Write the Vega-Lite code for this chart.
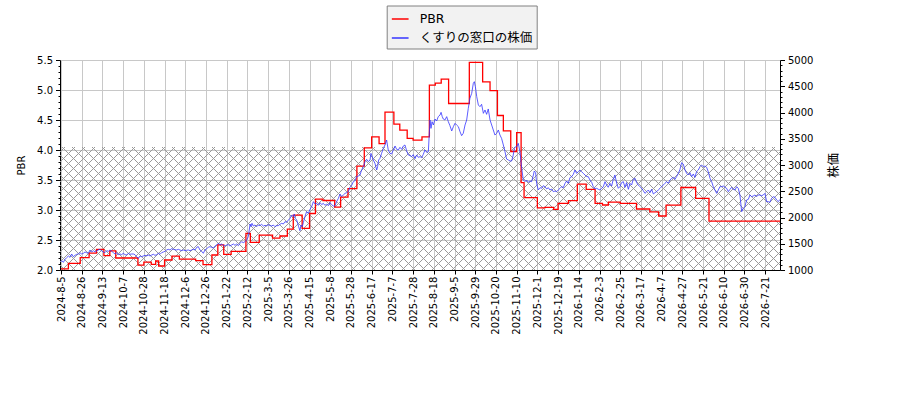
{
  "$schema": "https://vega.github.io/schema/vega-lite/v6.json",
  "width": 720,
  "height": 210,
  "autosize": {"type": "none"},
  "padding": {"left": 60, "top": 60, "right": 120, "bottom": 130},
  "background": "white",
  "datasets": {
    "band": [{"lo": 2.0, "hi": 4.05, "plo": 1000, "phi": 3342.857}],
    "pbr": [
      {"i": 0, "v": 2.02}, {"i": 5, "v": 2.11}, {"i": 13, "v": 2.205}, {"i": 19, "v": 2.28},
      {"i": 24, "v": 2.345}, {"i": 29, "v": 2.24}, {"i": 33, "v": 2.32}, {"i": 37, "v": 2.2},
      {"i": 52, "v": 2.08}, {"i": 56, "v": 2.13}, {"i": 61, "v": 2.095}, {"i": 64, "v": 2.15},
      {"i": 66, "v": 2.067}, {"i": 70, "v": 2.167}, {"i": 75, "v": 2.23}, {"i": 80, "v": 2.18},
      {"i": 91, "v": 2.155}, {"i": 96, "v": 2.09}, {"i": 102, "v": 2.25}, {"i": 106, "v": 2.42},
      {"i": 110, "v": 2.26}, {"i": 115, "v": 2.31}, {"i": 125, "v": 2.61}, {"i": 128, "v": 2.46},
      {"i": 134, "v": 2.58}, {"i": 143, "v": 2.53}, {"i": 148, "v": 2.567}, {"i": 153, "v": 2.68},
      {"i": 157, "v": 2.915}, {"i": 163, "v": 2.695}, {"i": 168, "v": 2.942}, {"i": 172, "v": 3.18},
      {"i": 177, "v": 3.158}, {"i": 185, "v": 3.048}, {"i": 189, "v": 3.215}, {"i": 194, "v": 3.355},
      {"i": 200, "v": 3.73}, {"i": 205, "v": 4.035}, {"i": 210, "v": 4.22}, {"i": 215, "v": 4.105},
      {"i": 219, "v": 4.63}, {"i": 225, "v": 4.43}, {"i": 229, "v": 4.33}, {"i": 234, "v": 4.195},
      {"i": 238, "v": 4.165}, {"i": 244, "v": 4.22}, {"i": 249, "v": 5.08}, {"i": 253, "v": 5.115},
      {"i": 257, "v": 5.18}, {"i": 262, "v": 4.775}, {"i": 276, "v": 5.46}, {"i": 285, "v": 5.135},
      {"i": 290, "v": 4.99}, {"i": 295, "v": 4.575}, {"i": 299, "v": 4.32}, {"i": 304, "v": 3.975},
      {"i": 308, "v": 4.29}, {"i": 311, "v": 3.455}, {"i": 313, "v": 3.205}, {"i": 322, "v": 3.035},
      {"i": 327, "v": 3.045}, {"i": 333, "v": 3.01}, {"i": 336, "v": 3.11}, {"i": 343, "v": 3.155},
      {"i": 349, "v": 3.43}, {"i": 355, "v": 3.345}, {"i": 361, "v": 3.11}, {"i": 366, "v": 3.083},
      {"i": 370, "v": 3.13}, {"i": 378, "v": 3.11}, {"i": 389, "v": 3.017}, {"i": 398, "v": 2.97},
      {"i": 404, "v": 2.9}, {"i": 409, "v": 3.08}, {"i": 419, "v": 3.375}, {"i": 429, "v": 3.195},
      {"i": 438, "v": 2.815}, {"i": 486, "v": 2.815}
    ],
    "price": [
      {"i": 0, "p": 1159}, {"i": 0.5, "p": 1178}, {"i": 1.6, "p": 1146}, {"i": 2.7, "p": 1203}, {"i": 3.8, "p": 1235},
      {"i": 5.0, "p": 1267}, {"i": 6.1, "p": 1241}, {"i": 7.2, "p": 1305}, {"i": 8.3, "p": 1254}, {"i": 9.5, "p": 1280},
      {"i": 10.6, "p": 1299}, {"i": 11.7, "p": 1305}, {"i": 12.8, "p": 1330}, {"i": 14.0, "p": 1305}, {"i": 15.1, "p": 1318},
      {"i": 16.2, "p": 1343}, {"i": 17.3, "p": 1330}, {"i": 18.5, "p": 1318}, {"i": 19.6, "p": 1381}, {"i": 20.7, "p": 1343},
      {"i": 21.9, "p": 1368}, {"i": 23.0, "p": 1343}, {"i": 24.1, "p": 1362}, {"i": 25.2, "p": 1381}, {"i": 26.4, "p": 1394},
      {"i": 27.5, "p": 1362}, {"i": 28.6, "p": 1343}, {"i": 29.7, "p": 1330}, {"i": 30.9, "p": 1368}, {"i": 32.0, "p": 1356},
      {"i": 33.1, "p": 1381}, {"i": 34.3, "p": 1356}, {"i": 35.4, "p": 1330}, {"i": 36.5, "p": 1305}, {"i": 37.6, "p": 1330},
      {"i": 38.8, "p": 1292}, {"i": 39.9, "p": 1305}, {"i": 41.0, "p": 1292}, {"i": 42.1, "p": 1318}, {"i": 43.3, "p": 1292},
      {"i": 44.4, "p": 1286}, {"i": 45.5, "p": 1318}, {"i": 46.6, "p": 1299}, {"i": 47.8, "p": 1305}, {"i": 48.9, "p": 1305},
      {"i": 50.0, "p": 1292}, {"i": 51.1, "p": 1254}, {"i": 52.3, "p": 1222}, {"i": 53.4, "p": 1267}, {"i": 54.5, "p": 1254},
      {"i": 55.6, "p": 1267}, {"i": 56.8, "p": 1280}, {"i": 57.9, "p": 1267}, {"i": 59.0, "p": 1286}, {"i": 60.2, "p": 1267},
      {"i": 61.3, "p": 1286}, {"i": 62.4, "p": 1299}, {"i": 63.5, "p": 1280}, {"i": 64.7, "p": 1292}, {"i": 65.8, "p": 1318},
      {"i": 66.9, "p": 1299}, {"i": 68.0, "p": 1330}, {"i": 69.2, "p": 1343}, {"i": 70.3, "p": 1356}, {"i": 71.4, "p": 1381},
      {"i": 72.5, "p": 1394}, {"i": 73.7, "p": 1381}, {"i": 74.8, "p": 1407}, {"i": 75.9, "p": 1394}, {"i": 77.0, "p": 1387},
      {"i": 78.2, "p": 1381}, {"i": 79.3, "p": 1394}, {"i": 80.4, "p": 1381}, {"i": 81.6, "p": 1368}, {"i": 82.7, "p": 1381},
      {"i": 83.8, "p": 1368}, {"i": 84.9, "p": 1375}, {"i": 86.1, "p": 1381}, {"i": 87.2, "p": 1368}, {"i": 88.3, "p": 1381},
      {"i": 89.4, "p": 1394}, {"i": 90.6, "p": 1381}, {"i": 91.7, "p": 1432}, {"i": 92.8, "p": 1445}, {"i": 93.9, "p": 1381},
      {"i": 95.1, "p": 1356}, {"i": 96.2, "p": 1318}, {"i": 97.3, "p": 1381}, {"i": 98.5, "p": 1407}, {"i": 99.6, "p": 1432},
      {"i": 100.7, "p": 1445}, {"i": 101.8, "p": 1432}, {"i": 103.0, "p": 1419}, {"i": 104.1, "p": 1457}, {"i": 105.2, "p": 1476},
      {"i": 106.3, "p": 1508}, {"i": 107.5, "p": 1483}, {"i": 108.6, "p": 1495}, {"i": 109.7, "p": 1470}, {"i": 110.8, "p": 1457},
      {"i": 112.0, "p": 1476}, {"i": 113.1, "p": 1483}, {"i": 114.2, "p": 1457}, {"i": 115.3, "p": 1476}, {"i": 116.5, "p": 1495},
      {"i": 117.6, "p": 1470}, {"i": 118.7, "p": 1495}, {"i": 119.9, "p": 1464},
      {"i": 121.0, "p": 1508}, {"i": 122.1, "p": 1540}, {"i": 123.2, "p": 1521}, {"i": 124.4, "p": 1540}, {"i": 125.5, "p": 1572},
      {"i": 126.6, "p": 1635}, {"i": 127.8, "p": 1876}, {"i": 128.4, "p": 1826}, {"i": 129.1, "p": 1889}, {"i": 130.0, "p": 1838},
      {"i": 131.1, "p": 1857}, {"i": 132.3, "p": 1826}, {"i": 133.4, "p": 1857}, {"i": 134.5, "p": 1845}, {"i": 135.6, "p": 1870},
      {"i": 136.8, "p": 1838}, {"i": 137.9, "p": 1851}, {"i": 139.0, "p": 1838}, {"i": 140.1, "p": 1864}, {"i": 141.3, "p": 1845},
      {"i": 142.4, "p": 1838}, {"i": 143.5, "p": 1857}, {"i": 144.6, "p": 1826}, {"i": 145.8, "p": 1845}, {"i": 146.9, "p": 1845},
      {"i": 148.0, "p": 1870}, {"i": 149.2, "p": 1889}, {"i": 150.3, "p": 1876}, {"i": 151.4, "p": 1921}, {"i": 152.5, "p": 1908},
      {"i": 153.7, "p": 1952}, {"i": 154.8, "p": 1984}, {"i": 155.9, "p": 2048}, {"i": 157.0, "p": 2016}, {"i": 157.7, "p": 2067},
      {"i": 158.4, "p": 1984}, {"i": 159.3, "p": 1952}, {"i": 160.0, "p": 1889}, {"i": 160.6, "p": 1826}, {"i": 161.5, "p": 1749},
      {"i": 162.2, "p": 1857}, {"i": 163.1, "p": 1826}, {"i": 163.8, "p": 1902}, {"i": 164.9, "p": 2016}, {"i": 166.0, "p": 2111},
      {"i": 167.2, "p": 2079}, {"i": 168.3, "p": 2156}, {"i": 169.4, "p": 2206}, {"i": 170.6, "p": 2302}, {"i": 171.7, "p": 2257},
      {"i": 172.8, "p": 2270}, {"i": 173.9, "p": 2232}, {"i": 175.1, "p": 2283}, {"i": 176.2, "p": 2245}, {"i": 177.3, "p": 2270},
      {"i": 178.4, "p": 2232}, {"i": 179.6, "p": 2257}, {"i": 180.7, "p": 2225}, {"i": 181.8, "p": 2283}, {"i": 182.9, "p": 2245},
      {"i": 184.1, "p": 2219}, {"i": 185.2, "p": 2225}, {"i": 186.3, "p": 2302}, {"i": 187.5, "p": 2365}, {"i": 188.6, "p": 2448},
      {"i": 189.7, "p": 2397}, {"i": 190.8, "p": 2429}, {"i": 192.0, "p": 2460}, {"i": 193.1, "p": 2473}, {"i": 194.2, "p": 2492},
      {"i": 195.3, "p": 2575}, {"i": 196.5, "p": 2613}, {"i": 197.6, "p": 2683}, {"i": 198.7, "p": 2702}, {"i": 199.8, "p": 2778},
      {"i": 201.0, "p": 2791}, {"i": 202.1, "p": 2810}, {"i": 203.2, "p": 2905}, {"i": 204.4, "p": 2968}, {"i": 205.5, "p": 3064},
      {"i": 206.6, "p": 3108}, {"i": 207.7, "p": 3064}, {"i": 208.9, "p": 3095}, {"i": 209.5, "p": 3222}, {"i": 210.2, "p": 3171},
      {"i": 211.1, "p": 3095}, {"i": 212.2, "p": 3032}, {"i": 213.4, "p": 2905}, {"i": 214.0, "p": 2968}, {"i": 214.7, "p": 3095},
      {"i": 215.6, "p": 3127}, {"i": 216.7, "p": 3222}, {"i": 217.9, "p": 3318}, {"i": 219.0, "p": 3381}, {"i": 220.1, "p": 3476},
      {"i": 221.2, "p": 3286}, {"i": 222.4, "p": 3222}, {"i": 223.5, "p": 3210}, {"i": 224.6, "p": 3286}, {"i": 225.8, "p": 3362},
      {"i": 226.9, "p": 3298}, {"i": 228.0, "p": 3286}, {"i": 229.1, "p": 3337}, {"i": 230.3, "p": 3298}, {"i": 231.4, "p": 3362},
      {"i": 232.5, "p": 3381}, {"i": 233.6, "p": 3273}, {"i": 234.8, "p": 3191}, {"i": 235.9, "p": 3178}, {"i": 237.0, "p": 3159},
      {"i": 238.1, "p": 3197}, {"i": 239.3, "p": 3121}, {"i": 240.4, "p": 3191}, {"i": 241.5, "p": 3146},
      {"i": 242.7, "p": 3159}, {"i": 243.8, "p": 3140}, {"i": 244.9, "p": 3203}, {"i": 246.0, "p": 3286}, {"i": 247.2, "p": 3241},
      {"i": 248.3, "p": 3254}, {"i": 249.4, "p": 3857}, {"i": 250.1, "p": 3698}, {"i": 250.8, "p": 3825}, {"i": 251.7, "p": 3762},
      {"i": 252.8, "p": 3876}, {"i": 253.9, "p": 3838}, {"i": 255.0, "p": 3921}, {"i": 256.2, "p": 3952}, {"i": 256.9, "p": 4003},
      {"i": 257.7, "p": 3921}, {"i": 258.4, "p": 3876}, {"i": 259.5, "p": 3857}, {"i": 260.7, "p": 3921}, {"i": 261.8, "p": 3825},
      {"i": 262.9, "p": 3749}, {"i": 264.1, "p": 3648}, {"i": 265.2, "p": 3730}, {"i": 266.3, "p": 3794}, {"i": 267.4, "p": 3762},
      {"i": 268.6, "p": 3730}, {"i": 269.7, "p": 3635}, {"i": 270.8, "p": 3559}, {"i": 271.9, "p": 3603}, {"i": 273.1, "p": 3762},
      {"i": 274.2, "p": 3857}, {"i": 275.3, "p": 4079}, {"i": 276.4, "p": 4270}, {"i": 277.6, "p": 4365}, {"i": 278.7, "p": 4556},
      {"i": 279.4, "p": 4587}, {"i": 280.1, "p": 4492}, {"i": 281.0, "p": 4302}, {"i": 282.1, "p": 4143}, {"i": 283.2, "p": 4111},
      {"i": 284.3, "p": 4156}, {"i": 285.5, "p": 3984}, {"i": 286.6, "p": 4048}, {"i": 287.7, "p": 3965}, {"i": 288.8, "p": 4067},
      {"i": 290.0, "p": 3857}, {"i": 291.1, "p": 3762}, {"i": 292.2, "p": 3667}, {"i": 293.3, "p": 3571}, {"i": 294.5, "p": 3603},
      {"i": 295.6, "p": 3667}, {"i": 296.7, "p": 3571}, {"i": 297.8, "p": 3508}, {"i": 299.0, "p": 3381}, {"i": 300.1, "p": 3254},
      {"i": 301.2, "p": 3114}, {"i": 302.4, "p": 3095}, {"i": 303.5, "p": 3076}, {"i": 304.6, "p": 3076}, {"i": 305.7, "p": 3190},
      {"i": 306.4, "p": 3317}, {"i": 307.3, "p": 3349}, {"i": 308.0, "p": 3349}, {"i": 309.1, "p": 3413}, {"i": 310.2, "p": 3254},
      {"i": 311.4, "p": 2937}, {"i": 312.5, "p": 2714}, {"i": 313.6, "p": 2683}, {"i": 314.7, "p": 2714}, {"i": 315.9, "p": 2670},
      {"i": 317.0, "p": 2695}, {"i": 318.1, "p": 2683}, {"i": 319.3, "p": 2810}, {"i": 319.9, "p": 2886}, {"i": 320.8, "p": 2860},
      {"i": 321.5, "p": 2651}, {"i": 322.6, "p": 2524}, {"i": 323.8, "p": 2568}, {"i": 324.9, "p": 2556}, {"i": 326.0, "p": 2606},
      {"i": 327.1, "p": 2587}, {"i": 328.3, "p": 2543}, {"i": 329.4, "p": 2568}, {"i": 330.5, "p": 2524}, {"i": 331.6, "p": 2543},
      {"i": 332.8, "p": 2492}, {"i": 333.9, "p": 2505}, {"i": 335.0, "p": 2492}, {"i": 336.1, "p": 2524}, {"i": 337.3, "p": 2556},
      {"i": 338.4, "p": 2587}, {"i": 339.5, "p": 2568}, {"i": 340.7, "p": 2651}, {"i": 341.8, "p": 2695}, {"i": 342.9, "p": 2651},
      {"i": 344.0, "p": 2759}, {"i": 345.2, "p": 2778}, {"i": 346.3, "p": 2822}, {"i": 347.4, "p": 2905}, {"i": 348.5, "p": 2841},
      {"i": 349.7, "p": 2873}, {"i": 350.8, "p": 2905}, {"i": 351.9, "p": 2873}, {"i": 353.0, "p": 2841}, {"i": 354.2, "p": 2810},
      {"i": 355.3, "p": 2778}, {"i": 356.4, "p": 2778}, {"i": 357.5, "p": 2714}, {"i": 358.7, "p": 2670}, {"i": 359.8, "p": 2587},
      {"i": 360.9, "p": 2543}, {"i": 362.1, "p": 2556}, {"i": 363.2, "p": 2537},
      {"i": 364.3, "p": 2524}, {"i": 365.4, "p": 2556}, {"i": 366.6, "p": 2587}, {"i": 367.7, "p": 2683}, {"i": 368.8, "p": 2619},
      {"i": 369.9, "p": 2575}, {"i": 371.1, "p": 2651}, {"i": 372.2, "p": 2600}, {"i": 373.3, "p": 2727}, {"i": 374.4, "p": 2810},
      {"i": 375.6, "p": 2651}, {"i": 376.7, "p": 2556}, {"i": 377.8, "p": 2587}, {"i": 378.9, "p": 2664}, {"i": 380.1, "p": 2683},
      {"i": 381.2, "p": 2575}, {"i": 382.3, "p": 2664}, {"i": 383.5, "p": 2537}, {"i": 384.6, "p": 2651}, {"i": 385.7, "p": 2619},
      {"i": 386.8, "p": 2727}, {"i": 388.0, "p": 2746}, {"i": 389.1, "p": 2664}, {"i": 390.2, "p": 2619}, {"i": 391.3, "p": 2587},
      {"i": 392.5, "p": 2556}, {"i": 393.6, "p": 2511}, {"i": 394.7, "p": 2460}, {"i": 395.9, "p": 2492}, {"i": 397.0, "p": 2524},
      {"i": 398.1, "p": 2473}, {"i": 399.2, "p": 2537}, {"i": 400.4, "p": 2448}, {"i": 401.5, "p": 2473}, {"i": 402.6, "p": 2492},
      {"i": 403.7, "p": 2524}, {"i": 404.9, "p": 2556}, {"i": 406.0, "p": 2587}, {"i": 407.1, "p": 2619}, {"i": 408.2, "p": 2651},
      {"i": 409.4, "p": 2683}, {"i": 410.5, "p": 2651}, {"i": 411.6, "p": 2714}, {"i": 412.8, "p": 2746}, {"i": 413.9, "p": 2765},
      {"i": 415.0, "p": 2727}, {"i": 416.1, "p": 2778}, {"i": 417.3, "p": 2841}, {"i": 418.4, "p": 2917}, {"i": 419.5, "p": 3044},
      {"i": 420.6, "p": 3019}, {"i": 421.8, "p": 2905}, {"i": 422.9, "p": 2841}, {"i": 424.0, "p": 2810}, {"i": 425.1, "p": 2854},
      {"i": 426.3, "p": 2778}, {"i": 427.4, "p": 2829}, {"i": 428.5, "p": 2765}, {"i": 429.6, "p": 2873}, {"i": 430.8, "p": 2905},
      {"i": 431.9, "p": 2968}, {"i": 433.0, "p": 2999}, {"i": 434.2, "p": 2968}, {"i": 435.3, "p": 2981}, {"i": 436.4, "p": 2956},
      {"i": 437.5, "p": 2873}, {"i": 438.7, "p": 2746}, {"i": 439.8, "p": 2683}, {"i": 440.9, "p": 2587}, {"i": 442.0, "p": 2524},
      {"i": 443.2, "p": 2460}, {"i": 444.3, "p": 2524}, {"i": 445.4, "p": 2587}, {"i": 446.5, "p": 2587}, {"i": 447.7, "p": 2600},
      {"i": 448.8, "p": 2575}, {"i": 449.9, "p": 2556}, {"i": 451.1, "p": 2492}, {"i": 452.2, "p": 2537}, {"i": 453.3, "p": 2575},
      {"i": 454.4, "p": 2537}, {"i": 455.6, "p": 2524}, {"i": 456.7, "p": 2587}, {"i": 457.8, "p": 2556}, {"i": 458.9, "p": 2429},
      {"i": 460.1, "p": 2111}, {"i": 461.2, "p": 2175}, {"i": 462.3, "p": 2206}, {"i": 463.4, "p": 2333}, {"i": 464.6, "p": 2346},
      {"i": 465.7, "p": 2429}, {"i": 466.8, "p": 2397}, {"i": 467.9, "p": 2410}, {"i": 469.1, "p": 2429}, {"i": 470.2, "p": 2397},
      {"i": 471.3, "p": 2429}, {"i": 472.5, "p": 2429}, {"i": 473.6, "p": 2416}, {"i": 474.7, "p": 2429}, {"i": 475.8, "p": 2460},
      {"i": 477.0, "p": 2302}, {"i": 478.1, "p": 2302}, {"i": 479.2, "p": 2289}, {"i": 480.3, "p": 2365}, {"i": 481.5, "p": 2397},
      {"i": 482.6, "p": 2384}, {"i": 483.7, "p": 2333}, {"i": 484.9, "p": 2302}, {"i": 486.0, "p": 2346}
    ]
  },
  "layer": [
    {
      "data": {"name": "band"},
      "mark": {
        "type": "rect",
        "fill": {
          "gradient": "linear", "x1": 0, "y1": 0, "x2": 1.133584, "y2": 0.193654,
          "stops": [
            {"offset":0.00525,"color":"rgba(0,0,0,0)"},{"offset":0.00525,"color":"#999"},{"offset":0.00665,"color":"#999"},{"offset":0.00665,"color":"rgba(0,0,0,0)"},
            {"offset":0.01716,"color":"rgba(0,0,0,0)"},{"offset":0.01716,"color":"#999"},{"offset":0.01856,"color":"#999"},{"offset":0.01856,"color":"rgba(0,0,0,0)"},
            {"offset":0.02906,"color":"rgba(0,0,0,0)"},{"offset":0.02906,"color":"#999"},{"offset":0.03046,"color":"#999"},{"offset":0.03046,"color":"rgba(0,0,0,0)"},
            {"offset":0.04097,"color":"rgba(0,0,0,0)"},{"offset":0.04097,"color":"#999"},{"offset":0.04237,"color":"#999"},{"offset":0.04237,"color":"rgba(0,0,0,0)"},
            {"offset":0.05287,"color":"rgba(0,0,0,0)"},{"offset":0.05287,"color":"#999"},{"offset":0.05427,"color":"#999"},{"offset":0.05427,"color":"rgba(0,0,0,0)"},
            {"offset":0.06478,"color":"rgba(0,0,0,0)"},{"offset":0.06478,"color":"#999"},{"offset":0.06618,"color":"#999"},{"offset":0.06618,"color":"rgba(0,0,0,0)"},
            {"offset":0.07668,"color":"rgba(0,0,0,0)"},{"offset":0.07668,"color":"#999"},{"offset":0.07808,"color":"#999"},{"offset":0.07808,"color":"rgba(0,0,0,0)"},
            {"offset":0.08859,"color":"rgba(0,0,0,0)"},{"offset":0.08859,"color":"#999"},{"offset":0.08999,"color":"#999"},{"offset":0.08999,"color":"rgba(0,0,0,0)"},
            {"offset":0.10049,"color":"rgba(0,0,0,0)"},{"offset":0.10049,"color":"#999"},{"offset":0.10189,"color":"#999"},{"offset":0.10189,"color":"rgba(0,0,0,0)"},
            {"offset":0.11240,"color":"rgba(0,0,0,0)"},{"offset":0.11240,"color":"#999"},{"offset":0.11380,"color":"#999"},{"offset":0.11380,"color":"rgba(0,0,0,0)"},
            {"offset":0.12430,"color":"rgba(0,0,0,0)"},{"offset":0.12430,"color":"#999"},{"offset":0.12570,"color":"#999"},{"offset":0.12570,"color":"rgba(0,0,0,0)"},
            {"offset":0.13620,"color":"rgba(0,0,0,0)"},{"offset":0.13620,"color":"#999"},{"offset":0.13760,"color":"#999"},{"offset":0.13760,"color":"rgba(0,0,0,0)"},
            {"offset":0.14811,"color":"rgba(0,0,0,0)"},{"offset":0.14811,"color":"#999"},{"offset":0.14951,"color":"#999"},{"offset":0.14951,"color":"rgba(0,0,0,0)"},
            {"offset":0.16001,"color":"rgba(0,0,0,0)"},{"offset":0.16001,"color":"#999"},{"offset":0.16141,"color":"#999"},{"offset":0.16141,"color":"rgba(0,0,0,0)"},
            {"offset":0.17192,"color":"rgba(0,0,0,0)"},{"offset":0.17192,"color":"#999"},{"offset":0.17332,"color":"#999"},{"offset":0.17332,"color":"rgba(0,0,0,0)"},
            {"offset":0.18382,"color":"rgba(0,0,0,0)"},{"offset":0.18382,"color":"#999"},{"offset":0.18522,"color":"#999"},{"offset":0.18522,"color":"rgba(0,0,0,0)"},
            {"offset":0.19573,"color":"rgba(0,0,0,0)"},{"offset":0.19573,"color":"#999"},{"offset":0.19713,"color":"#999"},{"offset":0.19713,"color":"rgba(0,0,0,0)"},
            {"offset":0.20763,"color":"rgba(0,0,0,0)"},{"offset":0.20763,"color":"#999"},{"offset":0.20903,"color":"#999"},{"offset":0.20903,"color":"rgba(0,0,0,0)"},
            {"offset":0.21954,"color":"rgba(0,0,0,0)"},{"offset":0.21954,"color":"#999"},{"offset":0.22094,"color":"#999"},{"offset":0.22094,"color":"rgba(0,0,0,0)"},
            {"offset":0.23144,"color":"rgba(0,0,0,0)"},{"offset":0.23144,"color":"#999"},{"offset":0.23284,"color":"#999"},{"offset":0.23284,"color":"rgba(0,0,0,0)"},
            {"offset":0.24335,"color":"rgba(0,0,0,0)"},{"offset":0.24335,"color":"#999"},{"offset":0.24475,"color":"#999"},{"offset":0.24475,"color":"rgba(0,0,0,0)"},
            {"offset":0.25525,"color":"rgba(0,0,0,0)"},{"offset":0.25525,"color":"#999"},{"offset":0.25665,"color":"#999"},{"offset":0.25665,"color":"rgba(0,0,0,0)"},
            {"offset":0.26716,"color":"rgba(0,0,0,0)"},{"offset":0.26716,"color":"#999"},{"offset":0.26856,"color":"#999"},{"offset":0.26856,"color":"rgba(0,0,0,0)"},
            {"offset":0.27906,"color":"rgba(0,0,0,0)"},{"offset":0.27906,"color":"#999"},{"offset":0.28046,"color":"#999"},{"offset":0.28046,"color":"rgba(0,0,0,0)"},
            {"offset":0.29097,"color":"rgba(0,0,0,0)"},{"offset":0.29097,"color":"#999"},{"offset":0.29237,"color":"#999"},{"offset":0.29237,"color":"rgba(0,0,0,0)"},
            {"offset":0.30287,"color":"rgba(0,0,0,0)"},{"offset":0.30287,"color":"#999"},{"offset":0.30427,"color":"#999"},{"offset":0.30427,"color":"rgba(0,0,0,0)"},
            {"offset":0.31478,"color":"rgba(0,0,0,0)"},{"offset":0.31478,"color":"#999"},{"offset":0.31618,"color":"#999"},{"offset":0.31618,"color":"rgba(0,0,0,0)"},
            {"offset":0.32668,"color":"rgba(0,0,0,0)"},{"offset":0.32668,"color":"#999"},{"offset":0.32808,"color":"#999"},{"offset":0.32808,"color":"rgba(0,0,0,0)"},
            {"offset":0.33859,"color":"rgba(0,0,0,0)"},{"offset":0.33859,"color":"#999"},{"offset":0.33999,"color":"#999"},{"offset":0.33999,"color":"rgba(0,0,0,0)"},
            {"offset":0.35049,"color":"rgba(0,0,0,0)"},{"offset":0.35049,"color":"#999"},{"offset":0.35189,"color":"#999"},{"offset":0.35189,"color":"rgba(0,0,0,0)"},
            {"offset":0.36240,"color":"rgba(0,0,0,0)"},{"offset":0.36240,"color":"#999"},{"offset":0.36380,"color":"#999"},{"offset":0.36380,"color":"rgba(0,0,0,0)"},
            {"offset":0.37430,"color":"rgba(0,0,0,0)"},{"offset":0.37430,"color":"#999"},{"offset":0.37570,"color":"#999"},{"offset":0.37570,"color":"rgba(0,0,0,0)"},
            {"offset":0.38620,"color":"rgba(0,0,0,0)"},{"offset":0.38620,"color":"#999"},{"offset":0.38760,"color":"#999"},{"offset":0.38760,"color":"rgba(0,0,0,0)"},
            {"offset":0.39811,"color":"rgba(0,0,0,0)"},{"offset":0.39811,"color":"#999"},{"offset":0.39951,"color":"#999"},{"offset":0.39951,"color":"rgba(0,0,0,0)"},
            {"offset":0.41001,"color":"rgba(0,0,0,0)"},{"offset":0.41001,"color":"#999"},{"offset":0.41141,"color":"#999"},{"offset":0.41141,"color":"rgba(0,0,0,0)"},
            {"offset":0.42192,"color":"rgba(0,0,0,0)"},{"offset":0.42192,"color":"#999"},{"offset":0.42332,"color":"#999"},{"offset":0.42332,"color":"rgba(0,0,0,0)"},
            {"offset":0.43382,"color":"rgba(0,0,0,0)"},{"offset":0.43382,"color":"#999"},{"offset":0.43522,"color":"#999"},{"offset":0.43522,"color":"rgba(0,0,0,0)"},
            {"offset":0.44573,"color":"rgba(0,0,0,0)"},{"offset":0.44573,"color":"#999"},{"offset":0.44713,"color":"#999"},{"offset":0.44713,"color":"rgba(0,0,0,0)"},
            {"offset":0.45763,"color":"rgba(0,0,0,0)"},{"offset":0.45763,"color":"#999"},{"offset":0.45903,"color":"#999"},{"offset":0.45903,"color":"rgba(0,0,0,0)"},
            {"offset":0.46954,"color":"rgba(0,0,0,0)"},{"offset":0.46954,"color":"#999"},{"offset":0.47094,"color":"#999"},{"offset":0.47094,"color":"rgba(0,0,0,0)"},
            {"offset":0.48144,"color":"rgba(0,0,0,0)"},{"offset":0.48144,"color":"#999"},{"offset":0.48284,"color":"#999"},{"offset":0.48284,"color":"rgba(0,0,0,0)"},
            {"offset":0.49335,"color":"rgba(0,0,0,0)"},{"offset":0.49335,"color":"#999"},{"offset":0.49475,"color":"#999"},{"offset":0.49475,"color":"rgba(0,0,0,0)"},
            {"offset":0.50525,"color":"rgba(0,0,0,0)"},{"offset":0.50525,"color":"#999"},{"offset":0.50665,"color":"#999"},{"offset":0.50665,"color":"rgba(0,0,0,0)"},
            {"offset":0.51716,"color":"rgba(0,0,0,0)"},{"offset":0.51716,"color":"#999"},{"offset":0.51856,"color":"#999"},{"offset":0.51856,"color":"rgba(0,0,0,0)"},
            {"offset":0.52906,"color":"rgba(0,0,0,0)"},{"offset":0.52906,"color":"#999"},{"offset":0.53046,"color":"#999"},{"offset":0.53046,"color":"rgba(0,0,0,0)"},
            {"offset":0.54097,"color":"rgba(0,0,0,0)"},{"offset":0.54097,"color":"#999"},{"offset":0.54237,"color":"#999"},{"offset":0.54237,"color":"rgba(0,0,0,0)"},
            {"offset":0.55287,"color":"rgba(0,0,0,0)"},{"offset":0.55287,"color":"#999"},{"offset":0.55427,"color":"#999"},{"offset":0.55427,"color":"rgba(0,0,0,0)"},
            {"offset":0.56478,"color":"rgba(0,0,0,0)"},{"offset":0.56478,"color":"#999"},{"offset":0.56618,"color":"#999"},{"offset":0.56618,"color":"rgba(0,0,0,0)"},
            {"offset":0.57668,"color":"rgba(0,0,0,0)"},{"offset":0.57668,"color":"#999"},{"offset":0.57808,"color":"#999"},{"offset":0.57808,"color":"rgba(0,0,0,0)"},
            {"offset":0.58859,"color":"rgba(0,0,0,0)"},{"offset":0.58859,"color":"#999"},{"offset":0.58999,"color":"#999"},{"offset":0.58999,"color":"rgba(0,0,0,0)"},
            {"offset":0.60049,"color":"rgba(0,0,0,0)"},{"offset":0.60049,"color":"#999"},{"offset":0.60189,"color":"#999"},{"offset":0.60189,"color":"rgba(0,0,0,0)"},
            {"offset":0.61240,"color":"rgba(0,0,0,0)"},{"offset":0.61240,"color":"#999"},{"offset":0.61380,"color":"#999"},{"offset":0.61380,"color":"rgba(0,0,0,0)"},
            {"offset":0.62430,"color":"rgba(0,0,0,0)"},{"offset":0.62430,"color":"#999"},{"offset":0.62570,"color":"#999"},{"offset":0.62570,"color":"rgba(0,0,0,0)"},
            {"offset":0.63620,"color":"rgba(0,0,0,0)"},{"offset":0.63620,"color":"#999"},{"offset":0.63760,"color":"#999"},{"offset":0.63760,"color":"rgba(0,0,0,0)"},
            {"offset":0.64811,"color":"rgba(0,0,0,0)"},{"offset":0.64811,"color":"#999"},{"offset":0.64951,"color":"#999"},{"offset":0.64951,"color":"rgba(0,0,0,0)"},
            {"offset":0.66001,"color":"rgba(0,0,0,0)"},{"offset":0.66001,"color":"#999"},{"offset":0.66141,"color":"#999"},{"offset":0.66141,"color":"rgba(0,0,0,0)"},
            {"offset":0.67192,"color":"rgba(0,0,0,0)"},{"offset":0.67192,"color":"#999"},{"offset":0.67332,"color":"#999"},{"offset":0.67332,"color":"rgba(0,0,0,0)"},
            {"offset":0.68382,"color":"rgba(0,0,0,0)"},{"offset":0.68382,"color":"#999"},{"offset":0.68522,"color":"#999"},{"offset":0.68522,"color":"rgba(0,0,0,0)"},
            {"offset":0.69573,"color":"rgba(0,0,0,0)"},{"offset":0.69573,"color":"#999"},{"offset":0.69713,"color":"#999"},{"offset":0.69713,"color":"rgba(0,0,0,0)"},
            {"offset":0.70763,"color":"rgba(0,0,0,0)"},{"offset":0.70763,"color":"#999"},{"offset":0.70903,"color":"#999"},{"offset":0.70903,"color":"rgba(0,0,0,0)"},
            {"offset":0.71954,"color":"rgba(0,0,0,0)"},{"offset":0.71954,"color":"#999"},{"offset":0.72094,"color":"#999"},{"offset":0.72094,"color":"rgba(0,0,0,0)"},
            {"offset":0.73144,"color":"rgba(0,0,0,0)"},{"offset":0.73144,"color":"#999"},{"offset":0.73284,"color":"#999"},{"offset":0.73284,"color":"rgba(0,0,0,0)"},
            {"offset":0.74335,"color":"rgba(0,0,0,0)"},{"offset":0.74335,"color":"#999"},{"offset":0.74475,"color":"#999"},{"offset":0.74475,"color":"rgba(0,0,0,0)"},
            {"offset":0.75525,"color":"rgba(0,0,0,0)"},{"offset":0.75525,"color":"#999"},{"offset":0.75665,"color":"#999"},{"offset":0.75665,"color":"rgba(0,0,0,0)"},
            {"offset":0.76716,"color":"rgba(0,0,0,0)"},{"offset":0.76716,"color":"#999"},{"offset":0.76856,"color":"#999"},{"offset":0.76856,"color":"rgba(0,0,0,0)"},
            {"offset":0.77906,"color":"rgba(0,0,0,0)"},{"offset":0.77906,"color":"#999"},{"offset":0.78046,"color":"#999"},{"offset":0.78046,"color":"rgba(0,0,0,0)"},
            {"offset":0.79097,"color":"rgba(0,0,0,0)"},{"offset":0.79097,"color":"#999"},{"offset":0.79237,"color":"#999"},{"offset":0.79237,"color":"rgba(0,0,0,0)"},
            {"offset":0.80287,"color":"rgba(0,0,0,0)"},{"offset":0.80287,"color":"#999"},{"offset":0.80427,"color":"#999"},{"offset":0.80427,"color":"rgba(0,0,0,0)"},
            {"offset":0.81478,"color":"rgba(0,0,0,0)"},{"offset":0.81478,"color":"#999"},{"offset":0.81618,"color":"#999"},{"offset":0.81618,"color":"rgba(0,0,0,0)"},
            {"offset":0.82668,"color":"rgba(0,0,0,0)"},{"offset":0.82668,"color":"#999"},{"offset":0.82808,"color":"#999"},{"offset":0.82808,"color":"rgba(0,0,0,0)"},
            {"offset":0.83859,"color":"rgba(0,0,0,0)"},{"offset":0.83859,"color":"#999"},{"offset":0.83999,"color":"#999"},{"offset":0.83999,"color":"rgba(0,0,0,0)"},
            {"offset":0.85049,"color":"rgba(0,0,0,0)"},{"offset":0.85049,"color":"#999"},{"offset":0.85189,"color":"#999"},{"offset":0.85189,"color":"rgba(0,0,0,0)"},
            {"offset":0.86240,"color":"rgba(0,0,0,0)"},{"offset":0.86240,"color":"#999"},{"offset":0.86380,"color":"#999"},{"offset":0.86380,"color":"rgba(0,0,0,0)"},
            {"offset":0.87430,"color":"rgba(0,0,0,0)"},{"offset":0.87430,"color":"#999"},{"offset":0.87570,"color":"#999"},{"offset":0.87570,"color":"rgba(0,0,0,0)"},
            {"offset":0.88620,"color":"rgba(0,0,0,0)"},{"offset":0.88620,"color":"#999"},{"offset":0.88760,"color":"#999"},{"offset":0.88760,"color":"rgba(0,0,0,0)"},
            {"offset":0.89811,"color":"rgba(0,0,0,0)"},{"offset":0.89811,"color":"#999"},{"offset":0.89951,"color":"#999"},{"offset":0.89951,"color":"rgba(0,0,0,0)"},
            {"offset":0.91001,"color":"rgba(0,0,0,0)"},{"offset":0.91001,"color":"#999"},{"offset":0.91141,"color":"#999"},{"offset":0.91141,"color":"rgba(0,0,0,0)"},
            {"offset":0.92192,"color":"rgba(0,0,0,0)"},{"offset":0.92192,"color":"#999"},{"offset":0.92332,"color":"#999"},{"offset":0.92332,"color":"rgba(0,0,0,0)"},
            {"offset":0.93382,"color":"rgba(0,0,0,0)"},{"offset":0.93382,"color":"#999"},{"offset":0.93522,"color":"#999"},{"offset":0.93522,"color":"rgba(0,0,0,0)"},
            {"offset":0.94573,"color":"rgba(0,0,0,0)"},{"offset":0.94573,"color":"#999"},{"offset":0.94713,"color":"#999"},{"offset":0.94713,"color":"rgba(0,0,0,0)"},
            {"offset":0.95763,"color":"rgba(0,0,0,0)"},{"offset":0.95763,"color":"#999"},{"offset":0.95903,"color":"#999"},{"offset":0.95903,"color":"rgba(0,0,0,0)"},
            {"offset":0.96954,"color":"rgba(0,0,0,0)"},{"offset":0.96954,"color":"#999"},{"offset":0.97094,"color":"#999"},{"offset":0.97094,"color":"rgba(0,0,0,0)"},
            {"offset":0.98144,"color":"rgba(0,0,0,0)"},{"offset":0.98144,"color":"#999"},{"offset":0.98284,"color":"#999"},{"offset":0.98284,"color":"rgba(0,0,0,0)"},
            {"offset":0.99335,"color":"rgba(0,0,0,0)"},{"offset":0.99335,"color":"#999"},{"offset":0.99475,"color":"#999"},{"offset":0.99475,"color":"rgba(0,0,0,0)"}
          ]
        }
      },
      "encoding": {
        "x": {"datum": -0.68, "type": "quantitative", "scale": {"domain": [-0.68, 486], "nice": false, "zero": false}},
        "x2": {"datum": 486},
        "y": {
          "field": "lo", "type": "quantitative",
          "scale": {"domain": [2, 5.5], "nice": false, "zero": false},
          "axis": {"orient": "left", "values": [2.1,2.2,2.3,2.4,2.6,2.7,2.8,2.9,3.1,3.2,3.3,3.4,3.6,3.7,3.8,3.9,4.1,4.2,4.3,4.4,4.6,4.7,4.8,4.9,5.1,5.2,5.3,5.4], "labels": false, "domain": false, "grid": false, "tickSize": 2, "title": null}
        },
        "y2": {"field": "hi"}
      }
    },
    {
      "data": {"name": "band"},
      "mark": {
        "type": "rect",
        "fill": {
          "gradient": "linear", "x1": 0, "y1": 1, "x2": 1.133584, "y2": 0.806346,
          "stops": [
            {"offset":0.00525,"color":"rgba(0,0,0,0)"},{"offset":0.00525,"color":"#999"},{"offset":0.00665,"color":"#999"},{"offset":0.00665,"color":"rgba(0,0,0,0)"},
            {"offset":0.01716,"color":"rgba(0,0,0,0)"},{"offset":0.01716,"color":"#999"},{"offset":0.01856,"color":"#999"},{"offset":0.01856,"color":"rgba(0,0,0,0)"},
            {"offset":0.02906,"color":"rgba(0,0,0,0)"},{"offset":0.02906,"color":"#999"},{"offset":0.03046,"color":"#999"},{"offset":0.03046,"color":"rgba(0,0,0,0)"},
            {"offset":0.04097,"color":"rgba(0,0,0,0)"},{"offset":0.04097,"color":"#999"},{"offset":0.04237,"color":"#999"},{"offset":0.04237,"color":"rgba(0,0,0,0)"},
            {"offset":0.05287,"color":"rgba(0,0,0,0)"},{"offset":0.05287,"color":"#999"},{"offset":0.05427,"color":"#999"},{"offset":0.05427,"color":"rgba(0,0,0,0)"},
            {"offset":0.06478,"color":"rgba(0,0,0,0)"},{"offset":0.06478,"color":"#999"},{"offset":0.06618,"color":"#999"},{"offset":0.06618,"color":"rgba(0,0,0,0)"},
            {"offset":0.07668,"color":"rgba(0,0,0,0)"},{"offset":0.07668,"color":"#999"},{"offset":0.07808,"color":"#999"},{"offset":0.07808,"color":"rgba(0,0,0,0)"},
            {"offset":0.08859,"color":"rgba(0,0,0,0)"},{"offset":0.08859,"color":"#999"},{"offset":0.08999,"color":"#999"},{"offset":0.08999,"color":"rgba(0,0,0,0)"},
            {"offset":0.10049,"color":"rgba(0,0,0,0)"},{"offset":0.10049,"color":"#999"},{"offset":0.10189,"color":"#999"},{"offset":0.10189,"color":"rgba(0,0,0,0)"},
            {"offset":0.11240,"color":"rgba(0,0,0,0)"},{"offset":0.11240,"color":"#999"},{"offset":0.11380,"color":"#999"},{"offset":0.11380,"color":"rgba(0,0,0,0)"},
            {"offset":0.12430,"color":"rgba(0,0,0,0)"},{"offset":0.12430,"color":"#999"},{"offset":0.12570,"color":"#999"},{"offset":0.12570,"color":"rgba(0,0,0,0)"},
            {"offset":0.13620,"color":"rgba(0,0,0,0)"},{"offset":0.13620,"color":"#999"},{"offset":0.13760,"color":"#999"},{"offset":0.13760,"color":"rgba(0,0,0,0)"},
            {"offset":0.14811,"color":"rgba(0,0,0,0)"},{"offset":0.14811,"color":"#999"},{"offset":0.14951,"color":"#999"},{"offset":0.14951,"color":"rgba(0,0,0,0)"},
            {"offset":0.16001,"color":"rgba(0,0,0,0)"},{"offset":0.16001,"color":"#999"},{"offset":0.16141,"color":"#999"},{"offset":0.16141,"color":"rgba(0,0,0,0)"},
            {"offset":0.17192,"color":"rgba(0,0,0,0)"},{"offset":0.17192,"color":"#999"},{"offset":0.17332,"color":"#999"},{"offset":0.17332,"color":"rgba(0,0,0,0)"},
            {"offset":0.18382,"color":"rgba(0,0,0,0)"},{"offset":0.18382,"color":"#999"},{"offset":0.18522,"color":"#999"},{"offset":0.18522,"color":"rgba(0,0,0,0)"},
            {"offset":0.19573,"color":"rgba(0,0,0,0)"},{"offset":0.19573,"color":"#999"},{"offset":0.19713,"color":"#999"},{"offset":0.19713,"color":"rgba(0,0,0,0)"},
            {"offset":0.20763,"color":"rgba(0,0,0,0)"},{"offset":0.20763,"color":"#999"},{"offset":0.20903,"color":"#999"},{"offset":0.20903,"color":"rgba(0,0,0,0)"},
            {"offset":0.21954,"color":"rgba(0,0,0,0)"},{"offset":0.21954,"color":"#999"},{"offset":0.22094,"color":"#999"},{"offset":0.22094,"color":"rgba(0,0,0,0)"},
            {"offset":0.23144,"color":"rgba(0,0,0,0)"},{"offset":0.23144,"color":"#999"},{"offset":0.23284,"color":"#999"},{"offset":0.23284,"color":"rgba(0,0,0,0)"},
            {"offset":0.24335,"color":"rgba(0,0,0,0)"},{"offset":0.24335,"color":"#999"},{"offset":0.24475,"color":"#999"},{"offset":0.24475,"color":"rgba(0,0,0,0)"},
            {"offset":0.25525,"color":"rgba(0,0,0,0)"},{"offset":0.25525,"color":"#999"},{"offset":0.25665,"color":"#999"},{"offset":0.25665,"color":"rgba(0,0,0,0)"},
            {"offset":0.26716,"color":"rgba(0,0,0,0)"},{"offset":0.26716,"color":"#999"},{"offset":0.26856,"color":"#999"},{"offset":0.26856,"color":"rgba(0,0,0,0)"},
            {"offset":0.27906,"color":"rgba(0,0,0,0)"},{"offset":0.27906,"color":"#999"},{"offset":0.28046,"color":"#999"},{"offset":0.28046,"color":"rgba(0,0,0,0)"},
            {"offset":0.29097,"color":"rgba(0,0,0,0)"},{"offset":0.29097,"color":"#999"},{"offset":0.29237,"color":"#999"},{"offset":0.29237,"color":"rgba(0,0,0,0)"},
            {"offset":0.30287,"color":"rgba(0,0,0,0)"},{"offset":0.30287,"color":"#999"},{"offset":0.30427,"color":"#999"},{"offset":0.30427,"color":"rgba(0,0,0,0)"},
            {"offset":0.31478,"color":"rgba(0,0,0,0)"},{"offset":0.31478,"color":"#999"},{"offset":0.31618,"color":"#999"},{"offset":0.31618,"color":"rgba(0,0,0,0)"},
            {"offset":0.32668,"color":"rgba(0,0,0,0)"},{"offset":0.32668,"color":"#999"},{"offset":0.32808,"color":"#999"},{"offset":0.32808,"color":"rgba(0,0,0,0)"},
            {"offset":0.33859,"color":"rgba(0,0,0,0)"},{"offset":0.33859,"color":"#999"},{"offset":0.33999,"color":"#999"},{"offset":0.33999,"color":"rgba(0,0,0,0)"},
            {"offset":0.35049,"color":"rgba(0,0,0,0)"},{"offset":0.35049,"color":"#999"},{"offset":0.35189,"color":"#999"},{"offset":0.35189,"color":"rgba(0,0,0,0)"},
            {"offset":0.36240,"color":"rgba(0,0,0,0)"},{"offset":0.36240,"color":"#999"},{"offset":0.36380,"color":"#999"},{"offset":0.36380,"color":"rgba(0,0,0,0)"},
            {"offset":0.37430,"color":"rgba(0,0,0,0)"},{"offset":0.37430,"color":"#999"},{"offset":0.37570,"color":"#999"},{"offset":0.37570,"color":"rgba(0,0,0,0)"},
            {"offset":0.38620,"color":"rgba(0,0,0,0)"},{"offset":0.38620,"color":"#999"},{"offset":0.38760,"color":"#999"},{"offset":0.38760,"color":"rgba(0,0,0,0)"},
            {"offset":0.39811,"color":"rgba(0,0,0,0)"},{"offset":0.39811,"color":"#999"},{"offset":0.39951,"color":"#999"},{"offset":0.39951,"color":"rgba(0,0,0,0)"},
            {"offset":0.41001,"color":"rgba(0,0,0,0)"},{"offset":0.41001,"color":"#999"},{"offset":0.41141,"color":"#999"},{"offset":0.41141,"color":"rgba(0,0,0,0)"},
            {"offset":0.42192,"color":"rgba(0,0,0,0)"},{"offset":0.42192,"color":"#999"},{"offset":0.42332,"color":"#999"},{"offset":0.42332,"color":"rgba(0,0,0,0)"},
            {"offset":0.43382,"color":"rgba(0,0,0,0)"},{"offset":0.43382,"color":"#999"},{"offset":0.43522,"color":"#999"},{"offset":0.43522,"color":"rgba(0,0,0,0)"},
            {"offset":0.44573,"color":"rgba(0,0,0,0)"},{"offset":0.44573,"color":"#999"},{"offset":0.44713,"color":"#999"},{"offset":0.44713,"color":"rgba(0,0,0,0)"},
            {"offset":0.45763,"color":"rgba(0,0,0,0)"},{"offset":0.45763,"color":"#999"},{"offset":0.45903,"color":"#999"},{"offset":0.45903,"color":"rgba(0,0,0,0)"},
            {"offset":0.46954,"color":"rgba(0,0,0,0)"},{"offset":0.46954,"color":"#999"},{"offset":0.47094,"color":"#999"},{"offset":0.47094,"color":"rgba(0,0,0,0)"},
            {"offset":0.48144,"color":"rgba(0,0,0,0)"},{"offset":0.48144,"color":"#999"},{"offset":0.48284,"color":"#999"},{"offset":0.48284,"color":"rgba(0,0,0,0)"},
            {"offset":0.49335,"color":"rgba(0,0,0,0)"},{"offset":0.49335,"color":"#999"},{"offset":0.49475,"color":"#999"},{"offset":0.49475,"color":"rgba(0,0,0,0)"},
            {"offset":0.50525,"color":"rgba(0,0,0,0)"},{"offset":0.50525,"color":"#999"},{"offset":0.50665,"color":"#999"},{"offset":0.50665,"color":"rgba(0,0,0,0)"},
            {"offset":0.51716,"color":"rgba(0,0,0,0)"},{"offset":0.51716,"color":"#999"},{"offset":0.51856,"color":"#999"},{"offset":0.51856,"color":"rgba(0,0,0,0)"},
            {"offset":0.52906,"color":"rgba(0,0,0,0)"},{"offset":0.52906,"color":"#999"},{"offset":0.53046,"color":"#999"},{"offset":0.53046,"color":"rgba(0,0,0,0)"},
            {"offset":0.54097,"color":"rgba(0,0,0,0)"},{"offset":0.54097,"color":"#999"},{"offset":0.54237,"color":"#999"},{"offset":0.54237,"color":"rgba(0,0,0,0)"},
            {"offset":0.55287,"color":"rgba(0,0,0,0)"},{"offset":0.55287,"color":"#999"},{"offset":0.55427,"color":"#999"},{"offset":0.55427,"color":"rgba(0,0,0,0)"},
            {"offset":0.56478,"color":"rgba(0,0,0,0)"},{"offset":0.56478,"color":"#999"},{"offset":0.56618,"color":"#999"},{"offset":0.56618,"color":"rgba(0,0,0,0)"},
            {"offset":0.57668,"color":"rgba(0,0,0,0)"},{"offset":0.57668,"color":"#999"},{"offset":0.57808,"color":"#999"},{"offset":0.57808,"color":"rgba(0,0,0,0)"},
            {"offset":0.58859,"color":"rgba(0,0,0,0)"},{"offset":0.58859,"color":"#999"},{"offset":0.58999,"color":"#999"},{"offset":0.58999,"color":"rgba(0,0,0,0)"},
            {"offset":0.60049,"color":"rgba(0,0,0,0)"},{"offset":0.60049,"color":"#999"},{"offset":0.60189,"color":"#999"},{"offset":0.60189,"color":"rgba(0,0,0,0)"},
            {"offset":0.61240,"color":"rgba(0,0,0,0)"},{"offset":0.61240,"color":"#999"},{"offset":0.61380,"color":"#999"},{"offset":0.61380,"color":"rgba(0,0,0,0)"},
            {"offset":0.62430,"color":"rgba(0,0,0,0)"},{"offset":0.62430,"color":"#999"},{"offset":0.62570,"color":"#999"},{"offset":0.62570,"color":"rgba(0,0,0,0)"},
            {"offset":0.63620,"color":"rgba(0,0,0,0)"},{"offset":0.63620,"color":"#999"},{"offset":0.63760,"color":"#999"},{"offset":0.63760,"color":"rgba(0,0,0,0)"},
            {"offset":0.64811,"color":"rgba(0,0,0,0)"},{"offset":0.64811,"color":"#999"},{"offset":0.64951,"color":"#999"},{"offset":0.64951,"color":"rgba(0,0,0,0)"},
            {"offset":0.66001,"color":"rgba(0,0,0,0)"},{"offset":0.66001,"color":"#999"},{"offset":0.66141,"color":"#999"},{"offset":0.66141,"color":"rgba(0,0,0,0)"},
            {"offset":0.67192,"color":"rgba(0,0,0,0)"},{"offset":0.67192,"color":"#999"},{"offset":0.67332,"color":"#999"},{"offset":0.67332,"color":"rgba(0,0,0,0)"},
            {"offset":0.68382,"color":"rgba(0,0,0,0)"},{"offset":0.68382,"color":"#999"},{"offset":0.68522,"color":"#999"},{"offset":0.68522,"color":"rgba(0,0,0,0)"},
            {"offset":0.69573,"color":"rgba(0,0,0,0)"},{"offset":0.69573,"color":"#999"},{"offset":0.69713,"color":"#999"},{"offset":0.69713,"color":"rgba(0,0,0,0)"},
            {"offset":0.70763,"color":"rgba(0,0,0,0)"},{"offset":0.70763,"color":"#999"},{"offset":0.70903,"color":"#999"},{"offset":0.70903,"color":"rgba(0,0,0,0)"},
            {"offset":0.71954,"color":"rgba(0,0,0,0)"},{"offset":0.71954,"color":"#999"},{"offset":0.72094,"color":"#999"},{"offset":0.72094,"color":"rgba(0,0,0,0)"},
            {"offset":0.73144,"color":"rgba(0,0,0,0)"},{"offset":0.73144,"color":"#999"},{"offset":0.73284,"color":"#999"},{"offset":0.73284,"color":"rgba(0,0,0,0)"},
            {"offset":0.74335,"color":"rgba(0,0,0,0)"},{"offset":0.74335,"color":"#999"},{"offset":0.74475,"color":"#999"},{"offset":0.74475,"color":"rgba(0,0,0,0)"},
            {"offset":0.75525,"color":"rgba(0,0,0,0)"},{"offset":0.75525,"color":"#999"},{"offset":0.75665,"color":"#999"},{"offset":0.75665,"color":"rgba(0,0,0,0)"},
            {"offset":0.76716,"color":"rgba(0,0,0,0)"},{"offset":0.76716,"color":"#999"},{"offset":0.76856,"color":"#999"},{"offset":0.76856,"color":"rgba(0,0,0,0)"},
            {"offset":0.77906,"color":"rgba(0,0,0,0)"},{"offset":0.77906,"color":"#999"},{"offset":0.78046,"color":"#999"},{"offset":0.78046,"color":"rgba(0,0,0,0)"},
            {"offset":0.79097,"color":"rgba(0,0,0,0)"},{"offset":0.79097,"color":"#999"},{"offset":0.79237,"color":"#999"},{"offset":0.79237,"color":"rgba(0,0,0,0)"},
            {"offset":0.80287,"color":"rgba(0,0,0,0)"},{"offset":0.80287,"color":"#999"},{"offset":0.80427,"color":"#999"},{"offset":0.80427,"color":"rgba(0,0,0,0)"},
            {"offset":0.81478,"color":"rgba(0,0,0,0)"},{"offset":0.81478,"color":"#999"},{"offset":0.81618,"color":"#999"},{"offset":0.81618,"color":"rgba(0,0,0,0)"},
            {"offset":0.82668,"color":"rgba(0,0,0,0)"},{"offset":0.82668,"color":"#999"},{"offset":0.82808,"color":"#999"},{"offset":0.82808,"color":"rgba(0,0,0,0)"},
            {"offset":0.83859,"color":"rgba(0,0,0,0)"},{"offset":0.83859,"color":"#999"},{"offset":0.83999,"color":"#999"},{"offset":0.83999,"color":"rgba(0,0,0,0)"},
            {"offset":0.85049,"color":"rgba(0,0,0,0)"},{"offset":0.85049,"color":"#999"},{"offset":0.85189,"color":"#999"},{"offset":0.85189,"color":"rgba(0,0,0,0)"},
            {"offset":0.86240,"color":"rgba(0,0,0,0)"},{"offset":0.86240,"color":"#999"},{"offset":0.86380,"color":"#999"},{"offset":0.86380,"color":"rgba(0,0,0,0)"},
            {"offset":0.87430,"color":"rgba(0,0,0,0)"},{"offset":0.87430,"color":"#999"},{"offset":0.87570,"color":"#999"},{"offset":0.87570,"color":"rgba(0,0,0,0)"},
            {"offset":0.88620,"color":"rgba(0,0,0,0)"},{"offset":0.88620,"color":"#999"},{"offset":0.88760,"color":"#999"},{"offset":0.88760,"color":"rgba(0,0,0,0)"},
            {"offset":0.89811,"color":"rgba(0,0,0,0)"},{"offset":0.89811,"color":"#999"},{"offset":0.89951,"color":"#999"},{"offset":0.89951,"color":"rgba(0,0,0,0)"},
            {"offset":0.91001,"color":"rgba(0,0,0,0)"},{"offset":0.91001,"color":"#999"},{"offset":0.91141,"color":"#999"},{"offset":0.91141,"color":"rgba(0,0,0,0)"},
            {"offset":0.92192,"color":"rgba(0,0,0,0)"},{"offset":0.92192,"color":"#999"},{"offset":0.92332,"color":"#999"},{"offset":0.92332,"color":"rgba(0,0,0,0)"},
            {"offset":0.93382,"color":"rgba(0,0,0,0)"},{"offset":0.93382,"color":"#999"},{"offset":0.93522,"color":"#999"},{"offset":0.93522,"color":"rgba(0,0,0,0)"},
            {"offset":0.94573,"color":"rgba(0,0,0,0)"},{"offset":0.94573,"color":"#999"},{"offset":0.94713,"color":"#999"},{"offset":0.94713,"color":"rgba(0,0,0,0)"},
            {"offset":0.95763,"color":"rgba(0,0,0,0)"},{"offset":0.95763,"color":"#999"},{"offset":0.95903,"color":"#999"},{"offset":0.95903,"color":"rgba(0,0,0,0)"},
            {"offset":0.96954,"color":"rgba(0,0,0,0)"},{"offset":0.96954,"color":"#999"},{"offset":0.97094,"color":"#999"},{"offset":0.97094,"color":"rgba(0,0,0,0)"},
            {"offset":0.98144,"color":"rgba(0,0,0,0)"},{"offset":0.98144,"color":"#999"},{"offset":0.98284,"color":"#999"},{"offset":0.98284,"color":"rgba(0,0,0,0)"},
            {"offset":0.99335,"color":"rgba(0,0,0,0)"},{"offset":0.99335,"color":"#999"},{"offset":0.99475,"color":"#999"},{"offset":0.99475,"color":"rgba(0,0,0,0)"}
          ]
        }
      },
      "encoding": {
        "x": {"datum": -0.68, "type": "quantitative"},
        "x2": {"datum": 486},
        "y": {
          "field": "plo", "type": "quantitative",
          "scale": {"domain": [1000, 5000], "nice": false, "zero": false},
          "axis": {"orient": "right", "values": [1100,1200,1300,1400,1600,1700,1800,1900,2100,2200,2300,2400,2600,2700,2800,2900,3100,3200,3300,3400,3600,3700,3800,3900,4100,4200,4300,4400,4600,4700,4800,4900], "labels": false, "domain": false, "grid": false, "tickSize": 2, "title": null}
        },
        "y2": {"field": "phi"}
      }
    },
    {
      "data": {"name": "pbr"},
      "mark": {"type": "line", "interpolate": "step-after", "strokeWidth": 1.3},
      "encoding": {
        "x": {
          "field": "i", "type": "quantitative",
          "scale": {"domain": [-0.68, 486], "nice": false, "zero": false},
          "axis": {
            "orient": "bottom", "title": null, "grid": true,
            "values": [0,14,28,42,56,70,84,98,112,126,140,154,168,182,196,210,224,238,252,266,280,294,308,322,336,350,364,378,392,406,420,434,448,462,476],
            "labelExpr": "['2024-8-5','2024-8-26','2024-9-13','2024-10-7','2024-10-28','2024-11-18','2024-12-6','2024-12-26','2025-1-22','2025-2-12','2025-3-5','2025-3-26','2025-4-15','2025-5-8','2025-5-28','2025-6-17','2025-7-7','2025-7-28','2025-8-18','2025-9-5','2025-9-29','2025-10-20','2025-11-10','2025-12-1','2025-12-19','2026-1-14','2026-2-3','2026-2-25','2026-3-17','2026-4-7','2026-4-27','2026-5-21','2026-6-10','2026-6-30','2026-7-21'][round(datum.value / 14)]",
            "labelAngle": -90, "labelOverlap": false, "labelFlush": false, "labelBound": false,
            "tickSize": 4, "labelPadding": 2
          }
        },
        "y": {
          "field": "v", "type": "quantitative",
          "scale": {"domain": [2, 5.5], "nice": false, "zero": false},
          "axis": {"orient": "left", "values": [2, 2.5, 3, 3.5, 4, 4.5, 5, 5.5], "format": ".1f", "title": "PBR", "titlePadding": 10, "grid": true, "tickSize": 4.5, "labelPadding": 3}
        },
        "color": {
          "datum": "PBR",
          "scale": {"domain": ["PBR", "くすりの窓口の株価"], "range": ["#ff0000", "#3535ff"]},
          "legend": {
            "orient": "none", "legendX": 326.7, "legendY": -54.5, "title": null,
            "symbolType": "stroke", "symbolSize": 280, "symbolStrokeWidth": 1.5,
            "labelFont": "DejaVu Sans, Noto Sans CJK JP", "labelFontSize": 12.5, "labelColor": "#000",
            "labelOffset": 10, "padding": 4, "rowPadding": 3,
            "fillColor": "#f2f2f2", "strokeColor": "#808080"
          }
        }
      }
    },
    {
      "data": {"name": "price"},
      "mark": {"type": "line", "strokeWidth": 0.8},
      "encoding": {
        "x": {"field": "i", "type": "quantitative"},
        "y": {
          "field": "p", "type": "quantitative",
          "scale": {"domain": [1000, 5000], "nice": false, "zero": false},
          "axis": {"orient": "right", "values": [1000, 1500, 2000, 2500, 3000, 3500, 4000, 4500, 5000], "format": "d", "title": "株価", "titleAngle": -90, "titleBaseline": "top", "titleFontSize": 12.5, "titlePadding": 15, "grid": false, "tickSize": 4.5, "labelPadding": 3}
        },
        "color": {"datum": "くすりの窓口の株価"}
      }
    }
  ],
  "resolve": {"scale": {"y": "independent"}},
  "config": {
    "view": {"stroke": null},
    "axis": {
      "labelFont": "DejaVu Sans", "labelFontSize": 10, "labelColor": "#000",
      "titleFont": "DejaVu Sans, Noto Sans CJK JP", "titleFontSize": 10, "titleFontWeight": "normal", "titleColor": "#000",
      "domainColor": "#000", "tickColor": "#000", "gridColor": "#c8c8c8", "gridWidth": 1
    },
    "axisX": {"labelOverlap": false, "labelFlush": false, "labelBound": false, "tickCount": 40}
  }
}
